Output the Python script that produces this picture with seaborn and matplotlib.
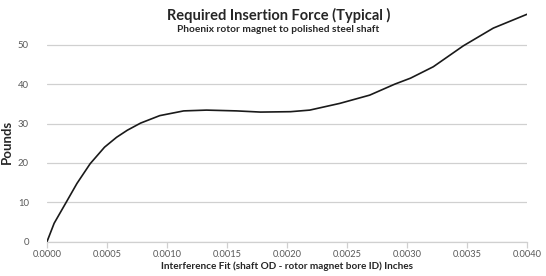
import pandas as pd
import matplotlib
matplotlib.use('Agg')
import matplotlib.pyplot as plt
import seaborn as sns

# values
fit_in = [0, 0.00006, 0.00016, 0.00025, 0.00036, 0.00048, 0.00058, 0.00067, 0.00078, 0.00094,
          0.00114, 0.00133, 0.00158, 0.00178, 0.00203, 0.00219, 0.00244, 0.00269,
          0.0029, 0.00303, 0.00322, 0.00347, 0.00372, 0.0040]
force_lb = [0, 4.7, 10, 14.8, 19.8, 24.0, 26.5, 28.3, 30.1, 32.0,
            33.2, 33.4, 33.2, 32.9, 33.0, 33.4, 35.1, 37.2,
            40.0, 41.5, 44.4, 49.7, 54.2, 57.7]

x_ticks = [0.0000, 0.0005, 0.0010, 0.0015, 0.0020, 0.0025, 0.0030, 0.0035, 0.0040]
y_ticks = [0, 10, 20, 30, 40, 50]

df = pd.DataFrame({'fit': fit_in, 'force': force_lb})

sns.set_theme(style='white')
plt.rcParams['font.family'] = ['Lato', 'DejaVu Sans']

fig = plt.figure(figsize=(5.46, 2.76), dpi=100)
ax = fig.add_axes([0.086, 0.124, 0.879, 0.857])

sns.lineplot(data=df, x='fit', y='force', ax=ax, color='#1a1a1a', linewidth=1.2)

ax.set_xlim(0, 0.004)
ax.set_ylim(0, 60)
ax.set_xticks(x_ticks)
ax.set_xticklabels([f'{t:.4f}' for t in x_ticks])
ax.set_yticks(y_ticks)
ax.grid(axis='y', color='#d0d0d0', linewidth=0.9)
ax.set_axisbelow(True)

for s in ['top', 'right', 'left']:
    ax.spines[s].set_visible(False)
ax.spines['bottom'].set_color('#d0d0d0')
ax.spines['bottom'].set_linewidth(0.9)

ax.tick_params(axis='x', bottom=True, length=4, width=0.9, color='#d0d0d0',
               labelsize=6.7, labelcolor='#595959', pad=2)
ax.tick_params(axis='y', left=False, length=0, labelsize=6.8, labelcolor='#595959', pad=13)

ax.set_xlabel('Interference Fit (shaft OD - rotor magnet bore ID) Inches',
              fontsize=7.2, fontweight='bold', color='#262626', labelpad=2)
ax.set_ylabel('Pounds', fontsize=9.5, fontweight='bold', color='#262626')
ax.yaxis.set_label_coords(-0.07, 0.42)

fig.text(0.51, 0.943, 'Required Insertion Force (Typical )', ha='center', va='center',
         fontsize=10.5, fontweight='bold', color='#262626')
fig.text(0.51, 0.893, 'Phoenix rotor magnet to polished steel shaft', ha='center', va='center',
         fontsize=7.3, fontweight='bold', color='#262626')

fig.savefig('out.png', dpi=100)
